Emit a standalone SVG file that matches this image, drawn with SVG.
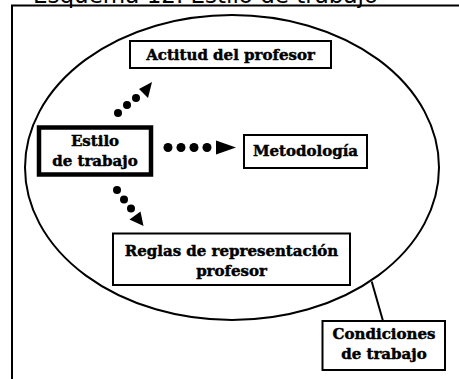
<svg xmlns="http://www.w3.org/2000/svg" width="459" height="379" viewBox="0 0 459 379">
<style>
.box{fill:#fff;stroke:#000;stroke-width:2}
.lbl{font-family:"DejaVu Serif",serif;font-weight:bold;font-size:15px;fill:#000;stroke:#000;stroke-width:0.45;text-anchor:middle}
.ttl{font-family:"DejaVu Sans",sans-serif;font-size:23px;fill:#000}
.dot{fill:#000}
</style>
<rect width="459" height="379" fill="#fff"/>
<text class="ttl" x="33" y="2.5">Esquema 12. Estilo de trabajo</text>
<g id="frame" fill="none" stroke="#000" stroke-width="2">
<line x1="11" y1="5.5" x2="459" y2="5.5"/>
<line x1="12" y1="5" x2="12" y2="379"/>
</g>
<g id="condiciones-ellipse"><ellipse cx="232" cy="167.5" rx="207" ry="152.5" fill="none" stroke="#000" stroke-width="2"/></g>
<g id="connectors">
<line x1="371.7" y1="281.5" x2="383" y2="321" stroke="#000" stroke-width="2"/>
<g id="arrow-up">
<circle class="dot" cx="118" cy="113" r="4"/>
<circle class="dot" cx="127" cy="105" r="4"/>
<circle class="dot" cx="136" cy="98" r="4"/>
<polygon class="dot" points="152,82 148,98 139,89"/>
</g>
<g id="arrow-right">
<circle class="dot" cx="168" cy="147.5" r="4.5"/>
<circle class="dot" cx="181" cy="147.5" r="4.5"/>
<circle class="dot" cx="194" cy="147.5" r="4.5"/>
<circle class="dot" cx="207" cy="147.5" r="4.5"/>
<polygon class="dot" points="216,140.5 236,147.5 216,154.5"/>
</g>
<g id="arrow-down">
<circle class="dot" cx="117" cy="190" r="4"/>
<circle class="dot" cx="124" cy="199.5" r="4"/>
<circle class="dot" cx="131" cy="208.5" r="4"/>
<polygon class="dot" points="143.5,226 129.5,219.5 140.5,211.5"/>
</g>
</g>
<g id="actitud">
<rect class="box" x="130" y="41" width="201" height="27"/>
<text class="lbl" x="230.5" y="59.5">Actitud del profesor</text>
</g>
<g id="estilo">
<rect x="39" y="127.5" width="112" height="47" fill="#fff" stroke="#000" stroke-width="4.5"/>
<text class="lbl" x="95" y="145.5">Estilo</text>
<text class="lbl" x="95" y="165.5">de trabajo</text>
</g>
<g id="metodologia">
<rect class="box" x="244" y="135" width="123" height="33"/>
<text class="lbl" x="305.5" y="156">Metodología</text>
</g>
<g id="reglas">
<rect class="box" x="113" y="233.5" width="237" height="51.5"/>
<text class="lbl" x="231.5" y="255.5">Reglas de representación</text>
<text class="lbl" x="231.5" y="275.5">profesor</text>
</g>
<g id="condiciones">
<rect class="box" x="322.5" y="321" width="122.5" height="49"/>
<text class="lbl" x="384" y="338.5">Condiciones</text>
<text class="lbl" x="384" y="358.5">de trabajo</text>
</g>
</svg>
